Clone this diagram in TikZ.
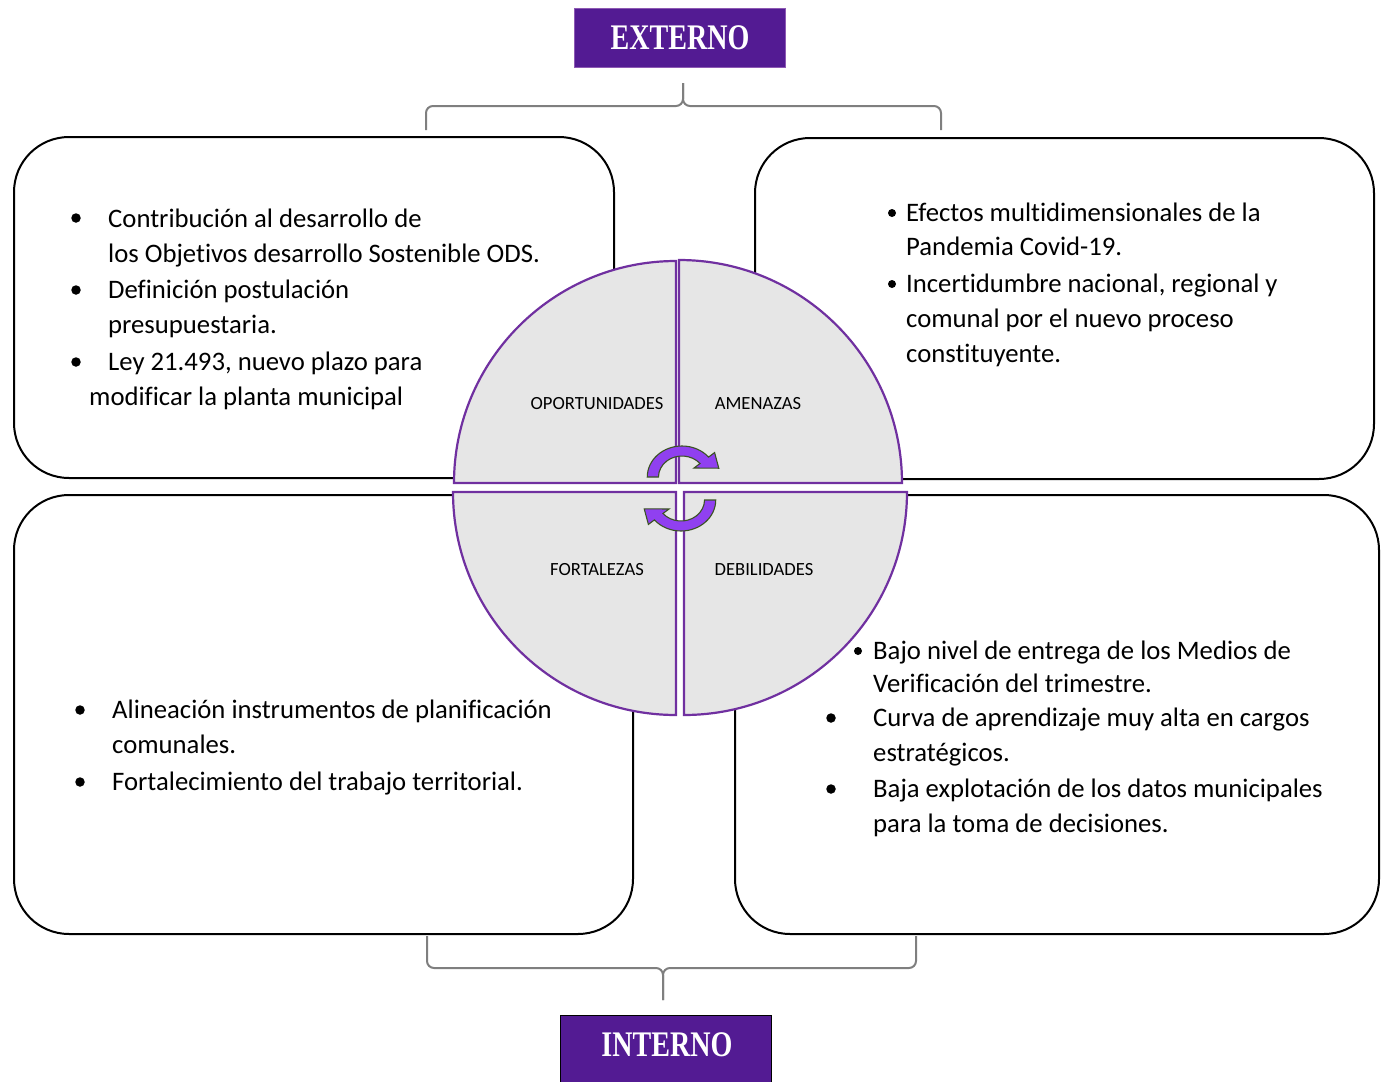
\documentclass[tikz,border=0pt]{standalone}
\usepackage{fontspec}
\setmainfont{Carlito}[Ligatures=NoCommon]
\newfontfamily\tagfont{Liberation Serif}
\usetikzlibrary{calc}
\definecolor{boxpurple}{HTML}{531B93}
\definecolor{quadline}{HTML}{7030A0}
\definecolor{quadfill}{HTML}{E6E6E6}
\definecolor{arrowfill}{HTML}{9040F0}
\definecolor{arrowline}{HTML}{3B5323}
\definecolor{bracegray}{HTML}{7F7F7F}
\begin{document}
\begin{tikzpicture}[x=1pt,y=-1pt,
  swotbox/.style={draw=black,line width=2pt,rounded corners=55pt},
  quad/.style={draw=quadline,fill=quadfill,line width=2.2pt},
  qlabel/.style={font=\fontsize{18.6}{21}\selectfont,inner sep=0pt},
  txt/.style={font=\fontsize{26.7}{30}\selectfont,anchor=base west,inner sep=0pt},
  bul/.style={circle,fill=black,inner sep=0pt,minimum size=9.5pt},
  bulsmall/.style={circle,fill=black,inner sep=0pt,minimum size=8pt},
  cycarrow/.style={fill=arrowfill,draw=arrowline,line width=1.1pt,line join=miter},
  brace/.style={draw=bracegray,line width=2pt,rounded corners=7pt},
  tagbox/.style={fill=boxpurple,inner sep=0pt,minimum width=211pt},
  tagtext/.style={text=white,font=\tagfont\bfseries\fontsize{36}{40}\selectfont,inner sep=0pt}
]
\useasboundingbox (0,0) rectangle (1385,1082);
% outer boxes
\draw[swotbox] (14,137) rectangle (614,478);
\draw[swotbox] (755,138) rectangle (1374,479);
\draw[swotbox] (14,495) rectangle (633,934);
\draw[swotbox] (735,495) rectangle (1379,934);
% circle quadrants
\draw[quad] (676,483) -- (454,483) arc[start angle=180,end angle=270,radius=222] -- cycle;
\draw[quad] (679,483) -- (679,260) arc[start angle=270,end angle=360,radius=223] -- cycle;
\draw[quad] (676,492) -- (453,492) arc[start angle=180,end angle=90,radius=223] -- cycle;
\draw[quad] (684,492) -- (684,715) arc[start angle=90,end angle=0,radius=223] -- cycle;
\node[qlabel] (op) at (597,404) {OPORTUNIDADES};
\node[qlabel] (am) at (758,404) {AMENAZAS};
\node[qlabel] (fo) at (597,570) {FORTALEZAS};
\node[qlabel] (de) at (764,570) {DEBILIDADES};
% cycle arrows
\begin{scope}[shift={(682,477)},xscale=1.12]
\draw[cycarrow] (180:31) arc[start angle=180,end angle=320,radius=31] -- (320:38) -- (345:34) -- (320:14) -- (320:21) arc[start angle=320,end angle=180,radius=21] -- cycle;
\end{scope}
\begin{scope}[shift={(681,500)},rotate=180,xscale=1.12]
\draw[cycarrow] (180:31) arc[start angle=180,end angle=320,radius=31] -- (320:38) -- (345:34) -- (320:14) -- (320:21) arc[start angle=320,end angle=180,radius=21] -- cycle;
\end{scope}
% braces
\coordinate (tbl) at (426,130);
\coordinate (tbr) at (941,130);
\coordinate (tbm) at (683,106);
\coordinate (tbt) at (683,83);
\draw[brace] (tbl) |- (tbm) -- (tbt);
\draw[brace] (tbr) |- (tbm) -- (tbt);
\coordinate (bbl) at (427,936);
\coordinate (bbr) at (916,936);
\coordinate (bbm) at (663,968);
\coordinate (bbb) at (663,1000);
\draw[brace] (bbl) |- (bbm) -- (bbb);
\draw[brace] (bbr) |- (bbm) -- (bbb);
% tags
\node[tagbox,draw=quadline!80!white,line width=1pt,minimum height=59pt] (ext) at (679.5,37.5) {};
\node[tagtext] (extt) at (680,38) {\scalebox{0.78}[1]{EXTERNO}};
\node[tagbox,draw=black,line width=1pt,minimum height=80pt] (int) at (666,1055) {};
\node[tagtext] (intt) at (667,1045) {\scalebox{0.78}[1]{INTERNO}};
% top-left text
\node[bul] (b1) at (76,218) {};
\node[txt] (t1) at (108,227) {Contribución al desarrollo de};
\node[txt] (t2) at (108,262) {los Objetivos desarrollo Sostenible ODS.};
\node[bul] (b2) at (76,290) {};
\node[txt] (t3) at (108,298) {Definición postulación};
\node[txt] (t4) at (108,333) {presupuestaria.};
\node[bul] (b3) at (76,362) {};
\node[txt] (t5) at (108,370) {Ley 21.493, nuevo plazo para};
\node[txt] (t6) at (89,405) {modificar la planta municipal};
% top-right text
\node[bulsmall] (b4) at (892,213) {};
\node[txt] (t7) at (906,221) {Efectos multidimensionales de la};
\node[txt] (t8) at (906,255) {Pandemia Covid-19.};
\node[bulsmall] (b5) at (892,284) {};
\node[txt] (t9) at (906,292) {Incertidumbre nacional, regional y};
\node[txt] (t10) at (906,327) {comunal por el nuevo proceso};
\node[txt] (t11) at (906,362) {constituyente.};
% bottom-left text
\node[bul] (b6) at (80,710) {};
\node[txt] (t12) at (112,718) {Alineación instrumentos de planificación};
\node[txt] (t13) at (112,753) {comunales.};
\node[bul] (b7) at (80,782) {};
\node[txt] (t14) at (112,790) {Fortalecimiento del trabajo territorial.};
% bottom-right text
\node[bulsmall] (b8) at (858,651) {};
\node[txt] (t15) at (873,659) {Bajo nivel de entrega de los Medios de};
\node[txt] (t16) at (873,692) {Verificación del trimestre.};
\node[bul] (b9) at (831,718) {};
\node[txt] (t17) at (873,726) {Curva de aprendizaje muy alta en cargos};
\node[txt] (t18) at (873,761) {estratégicos.};
\node[bul] (b10) at (831,789) {};
\node[txt] (t19) at (873,797) {Baja explotación de los datos municipales};
\node[txt] (t20) at (873,832) {para la toma de decisiones.};
\end{tikzpicture}
\end{document}
